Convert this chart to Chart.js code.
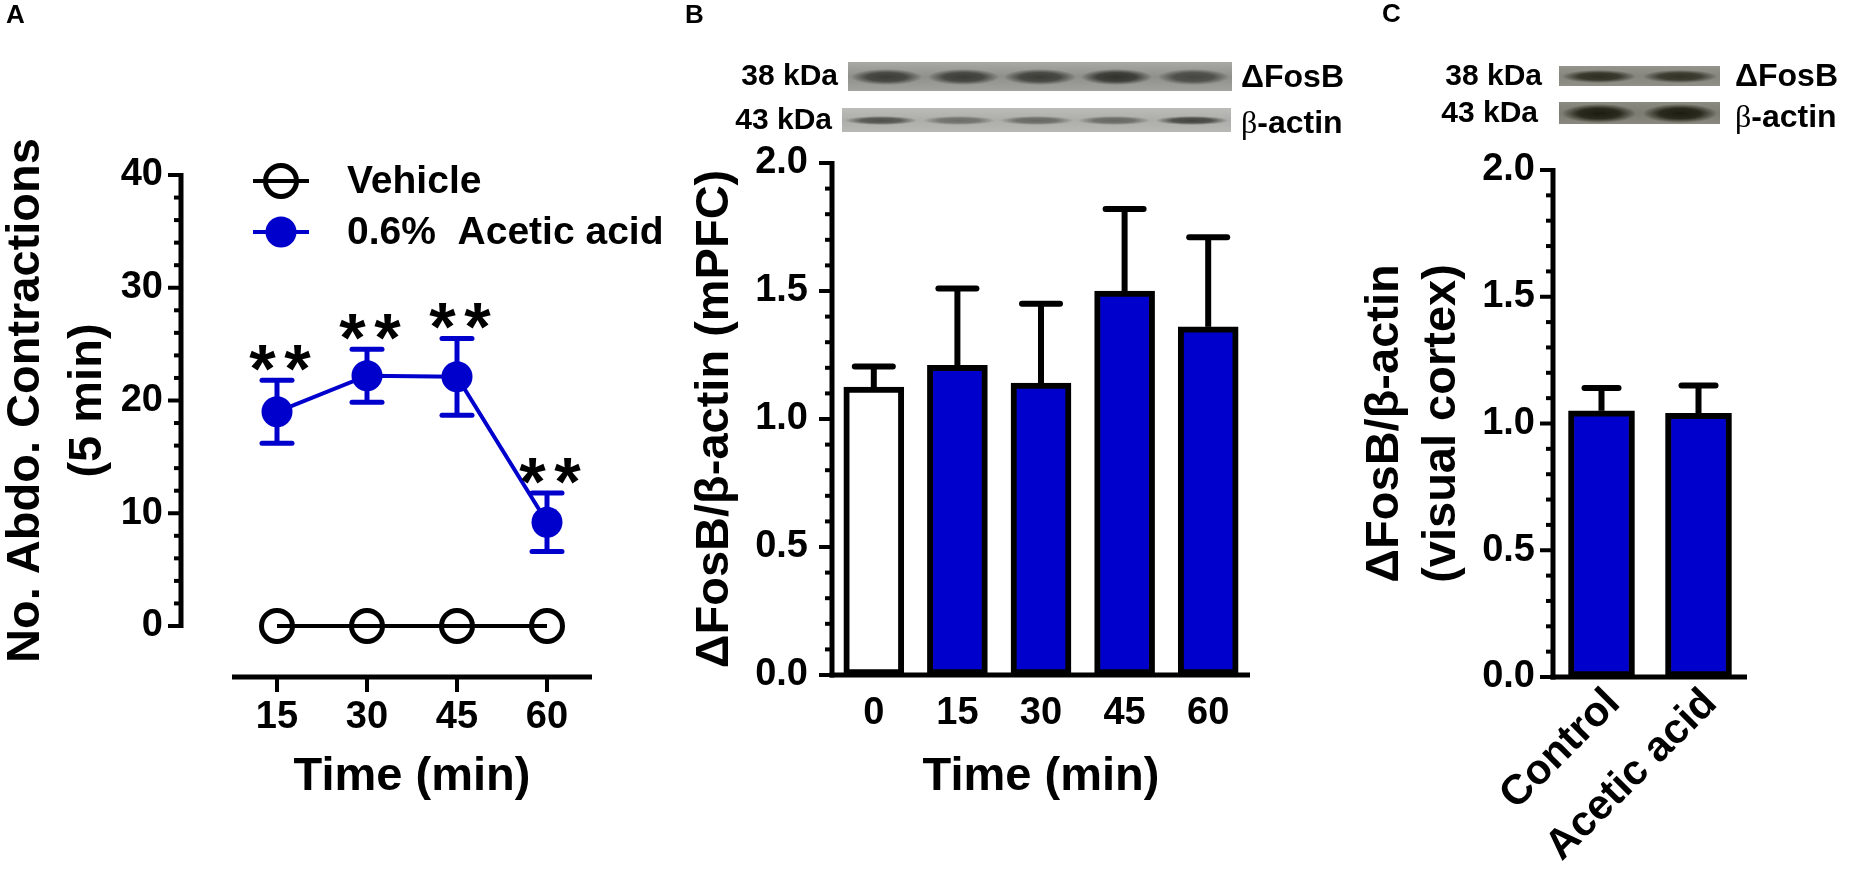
<!DOCTYPE html>
<html>
<head>
<meta charset="utf-8">
<script src="https://cdn.jsdelivr.net/npm/chart.js@4.4.1/dist/chart.umd.min.js"></script>
<style>
  body { margin: 0; background: #fff; width: 1850px; height: 878px; overflow: hidden; position: relative;
         font-family: 'Liberation Sans', Arial, sans-serif; font-weight: bold; color: #000; }
  canvas { position: absolute; left: 0; top: 0; }
  .lbl { position: absolute; white-space: nowrap; line-height: 1; transform: translateY(-50%); }
  .lbl.r { transform: translate(-100%, -50%); }
  .blot { position: absolute; overflow: hidden; }
  .band { position: absolute; }
  .greek { font-family: 'Liberation Serif', 'DejaVu Serif', serif; font-weight: normal; }
</style>
</head>
<body>
<canvas id="chartA" width="1850" height="878"></canvas>
<canvas id="chartB" width="1850" height="878"></canvas>
<canvas id="chartC" width="1850" height="878"></canvas>

<div class="lbl" style="left:6px;top:14px;font-size:26px">A</div>
<div class="lbl" style="left:685px;top:14px;font-size:26px">B</div>
<div class="lbl" style="left:1382px;top:13px;font-size:26px">C</div>

<div class="lbl r" style="left:838px;top:75px;font-size:30px">38 kDa</div>
<div class="lbl r" style="left:832px;top:119px;font-size:30px">43 kDa</div>
<div class="lbl" style="left:1241px;top:76px;font-size:32px">ΔFosB</div>
<div class="lbl" style="left:1241px;top:122px;font-size:32px"><span class="greek">β</span>-actin</div>

<div class="lbl r" style="left:1542px;top:75px;font-size:30px">38 kDa</div>
<div class="lbl r" style="left:1538px;top:112px;font-size:30px">43 kDa</div>
<div class="lbl" style="left:1735px;top:75px;font-size:32px">ΔFosB</div>
<div class="lbl" style="left:1735px;top:116px;font-size:32px"><span class="greek">β</span>-actin</div>

<script>
/*************** data ***************/
const timeMin = [15, 30, 45, 60];
const vehicleMean = [0, 0, 0, 0];
const aceticMean = [19.0, 22.2, 22.1, 9.2];
const aceticSem = [2.8, 2.35, 3.4, 2.6];
const aceticSig = ['**', '**', '**', '**'];
const contractionTicks = [0, 10, 20, 30, 40];

const mpfcGroups = ['0', '15', '30', '45', '60'];
const mpfcMean = [1.125, 1.21, 1.14, 1.50, 1.36];
const mpfcSem = [0.08, 0.30, 0.31, 0.32, 0.35];

const visualGroups = ['Control', 'Acetic acid'];
const visualMean = [1.05, 1.04];
const visualSem = [0.09, 0.11];

const ratioTicks = [0, 0.5, 1.0, 1.5, 2.0];

const BLUE = '#0000cc';
const FONT = "'Liberation Sans', Arial, sans-serif";

Chart.defaults.font.family = FONT;
Chart.defaults.font.weight = 'bold';
Chart.defaults.color = '#000';

/*************** western blot strips (picture only) ***************/
function addBlot(left, top, w, h, bg, band, bandH, lanes) {
  const d = document.createElement('div');
  d.className = 'blot';
  Object.assign(d.style, { left: left + 'px', top: top + 'px', width: w + 'px', height: h + 'px', background: bg });
  const lw = w / lanes.length;
  lanes.forEach((a, i) => {
    const b = document.createElement('div');
    b.className = 'band';
    Object.assign(b.style, {
      left: (i * lw + lw * 0.05) + 'px', width: (lw * 0.9) + 'px',
      top: (h / 2 - bandH / 2) + 'px', height: bandH + 'px',
      background: `radial-gradient(ellipse 52% 50% at 50% 50%, rgba(${band},${a}) 0%, rgba(${band},${a * 0.85}) 55%, rgba(${band},0) 100%)`
    });
    d.appendChild(b);
  });
  document.body.appendChild(d);
}
addBlot(848, 62, 384, 29, 'linear-gradient(#a9a9a6, #8f8f8c 50%, #a2a29f)', '45,45,40', 16, [0.85, 0.85, 0.85, 0.95, 0.75]);
addBlot(842, 108, 389, 24, 'linear-gradient(#bcbcb8, #adadaa 50%, #b8b8b4)', '55,55,50', 9, [0.8, 0.55, 0.6, 0.6, 0.9]);
addBlot(1559, 66, 161, 20, 'linear-gradient(#94948c, #86867e 50%, #909088)', '40,40,28', 13, [0.95, 0.9]);
addBlot(1559, 102, 161, 22, 'linear-gradient(#8a8a80, #7c7c72 50%, #88887e)', '28,28,16', 19, [1, 1]);

/*************** plugins ***************/
// GraphPad style axes: thick lines, long major and short minor ticks
const axesFrame = {
  id: 'axesFrame',
  afterDraw(chart, args, o) {
    const { ctx, chartArea: ca, scales: { x, y } } = chart;
    const ax = ca.left - (o.yGap || 0);
    const ay = ca.bottom + (o.xGap || 0);
    ctx.save();
    ctx.strokeStyle = '#000';
    ctx.lineCap = 'butt';
    ctx.lineWidth = 5;
    const yBot = o.xGap ? y.getPixelForValue(y.min) + 2 : ay + 2.5;
    ctx.beginPath(); ctx.moveTo(ax, yBot); ctx.lineTo(ax, y.getPixelForValue(y.max) - 2); ctx.stroke();
    const xStart = o.yGap ? x.getPixelForValue(x.min) : ax - 2.5;
    ctx.beginPath(); ctx.moveTo(xStart, ay); ctx.lineTo(ca.right, ay); ctx.stroke();
    ctx.lineWidth = 4;
    const majors = y.ticks.map(t => t.value);
    for (let v = y.min; v <= y.max + 1e-9; v += o.minorStep) {
      const p = y.getPixelForValue(v);
      const len = majors.some(m => Math.abs(m - v) < 1e-6) ? 13 : 7;
      ctx.beginPath(); ctx.moveTo(ax - len, p); ctx.lineTo(ax, p); ctx.stroke();
    }
    if (o.xTickLen) {
      x.ticks.forEach(t => {
        const p = x.getPixelForValue(t.value);
        ctx.beginPath(); ctx.moveTo(p, ay); ctx.lineTo(p, ay + o.xTickLen); ctx.stroke();
      });
    }
    ctx.restore();
  }
};

const errorBars = {
  id: 'errorBars',
  afterDatasetsDraw(chart, args, o) {
    if (!o.sem) return;
    const { ctx } = chart;
    const y = chart.scales.y;
    const ds = chart.data.datasets[o.datasetIndex];
    const meta = chart.getDatasetMeta(o.datasetIndex);
    ctx.save();
    ctx.strokeStyle = o.color;
    ctx.lineWidth = o.width;
    meta.data.forEach((el, i) => {
      const v = typeof ds.data[i] === 'object' ? ds.data[i].y : ds.data[i];
      const hi = y.getPixelForValue(v + o.sem[i]);
      const lo = y.getPixelForValue(o.both ? v - o.sem[i] : v);
      ctx.lineCap = 'butt';
      ctx.beginPath(); ctx.moveTo(el.x, lo); ctx.lineTo(el.x, hi); ctx.stroke();
      ctx.lineCap = 'round';
      (o.both ? [hi, lo] : [hi]).forEach(p => {
        ctx.beginPath(); ctx.moveTo(el.x - o.cap, p); ctx.lineTo(el.x + o.cap, p); ctx.stroke();
      });
    });
    ctx.restore();
  }
};

const sigStars = {
  id: 'sigStars',
  afterDatasetsDraw(chart, args, o) {
    if (!o.labels) return;
    const { ctx } = chart;
    const y = chart.scales.y;
    const ds = chart.data.datasets[o.datasetIndex];
    const meta = chart.getDatasetMeta(o.datasetIndex);
    ctx.save();
    ctx.fillStyle = '#000';
    ctx.font = `bold ${o.size}px ${FONT}`;
    ctx.textAlign = 'center';
    const m = ctx.measureText('*');
    const shift = (m.actualBoundingBoxAscent - m.actualBoundingBoxDescent) / 2;
    meta.data.forEach((el, i) => {
      const lab = o.labels[i];
      if (!lab) return;
      const cy = y.getPixelForValue(ds.data[i].y + o.sem[i]) - o.gap;
      for (let k = 0; k < lab.length; k++) {
        ctx.fillText(lab[k], el.x + o.dx + (k - (lab.length - 1) / 2) * o.spacing, cy + shift);
      }
    });
    ctx.restore();
  }
};

// legend with a line through the marker, as in the figure
const lineLegend = {
  id: 'lineLegend',
  afterDraw(chart, args, o) {
    if (!o.show) return;
    const { ctx, chartArea: ca } = chart;
    ctx.save();
    chart.data.datasets.forEach((ds, i) => {
      const yy = ca.top + o.top + i * o.step;
      const x0 = ca.left + o.left;
      ctx.strokeStyle = ds.borderColor;
      ctx.lineWidth = ds.borderWidth;
      ctx.beginPath(); ctx.moveTo(x0, yy); ctx.lineTo(x0 + o.lineLen, yy); ctx.stroke();
      ctx.beginPath(); ctx.arc(x0 + o.lineLen / 2, yy, ds.pointRadius, 0, Math.PI * 2);
      ctx.fillStyle = ds.pointBackgroundColor; ctx.fill();
      if (ds.pointBorderWidth) { ctx.lineWidth = ds.pointBorderWidth; ctx.strokeStyle = ds.pointBorderColor; ctx.stroke(); }
      ctx.fillStyle = '#000';
      ctx.font = `bold ${o.size}px ${FONT}`;
      ctx.textBaseline = 'middle';
      ctx.fillText(ds.label, x0 + o.textGap, yy + 1);
    });
    ctx.restore();
  }
};

const plainGrid = { display: false, drawTicks: false };
const noBorder = { display: false };

/*************** A: abdominal contractions ***************/
new Chart(document.getElementById('chartA'), {
  type: 'line',
  data: {
    datasets: [
      {
        label: 'Vehicle',
        data: timeMin.map((t, i) => ({ x: t, y: vehicleMean[i] })),
        borderColor: '#000', borderWidth: 4,
        pointRadius: 15.5, pointBorderWidth: 5,
        pointBorderColor: '#000', pointBackgroundColor: 'rgba(0,0,0,0)',
        clip: false
      },
      {
        label: '0.6%  Acetic acid',
        data: timeMin.map((t, i) => ({ x: t, y: aceticMean[i] })),
        borderColor: BLUE, borderWidth: 4,
        pointRadius: 15.5, pointBorderWidth: 0,
        pointBorderColor: BLUE, pointBackgroundColor: BLUE,
        clip: false
      }
    ]
  },
  options: {
    responsive: false, animation: false, events: [],
    layout: { autoPadding: false, padding: { left: 0, top: 175, right: 1258, bottom: 0 } },
    scales: {
      x: {
        type: 'linear', min: 7.5, max: 67.5,
        afterFit: s => { s.height = 252; },
        afterBuildTicks: s => { s.ticks = timeMin.map(v => ({ value: v })); },
        grid: plainGrid, border: noBorder,
        ticks: { font: { size: 38 }, padding: 69 },
        title: { display: true, text: 'Time (min)', font: { size: 47 }, padding: { top: 0, bottom: 73 } }
      },
      y: {
        min: 0, max: 40,
        afterFit: s => { s.width = 232; },
        afterBuildTicks: s => { s.ticks = contractionTicks.map(v => ({ value: v })); },
        grid: plainGrid, border: noBorder,
        ticks: { font: { size: 38 }, padding: 69 },
        title: {
          display: true, text: ['No. Abdo. Contractions', '(5 min)'],
          font: { size: 47, lineHeight: '62px' }, padding: { top: -5, bottom: 0 }
        }
      }
    },
    plugins: {
      legend: { display: false }, tooltip: { enabled: false },
      axesFrame: { yGap: 51, xGap: 51, minorStep: 2, xTickLen: 15 },
      errorBars: { sem: aceticSem, datasetIndex: 1, both: true, color: BLUE, width: 5, cap: 15 },
      sigStars: { labels: aceticSig, sem: aceticSem, datasetIndex: 1, size: 68, spacing: 35, gap: 22, dx: 3 },
      lineLegend: { show: true, top: 6, step: 51, left: 21, lineLen: 56, textGap: 94, size: 39 }
    }
  },
  plugins: [axesFrame, errorBars, sigStars, lineLegend]
});

/*************** B: mPFC ***************/
new Chart(document.getElementById('chartB'), {
  type: 'bar',
  data: {
    labels: mpfcGroups,
    datasets: [{
      data: mpfcMean,
      backgroundColor: mpfcGroups.map((g, i) => i === 0 ? '#fff' : BLUE),
      borderColor: '#000', borderWidth: 6, borderSkipped: false,
      barThickness: 60
    }]
  },
  options: {
    responsive: false, animation: false, events: [],
    layout: { autoPadding: false, padding: { left: 687, top: 163, right: 600, bottom: 0 } },
    scales: {
      x: {
        afterFit: s => { s.height = 203; },
        grid: plainGrid, border: noBorder,
        ticks: { font: { size: 38 }, padding: 16 },
        title: { display: true, text: 'Time (min)', font: { size: 47 }, padding: { top: 0, bottom: 73 } }
      },
      y: {
        min: 0, max: 2,
        afterFit: s => { s.width = 145; },
        afterBuildTicks: s => { s.ticks = ratioTicks.map(v => ({ value: v })); },
        grid: plainGrid, border: noBorder,
        ticks: { font: { size: 38 }, padding: 24, callback: v => v.toFixed(1) },
        title: { display: true, text: 'ΔFosB/β-actin (mPFC)', font: { size: 47 }, padding: { top: 0, bottom: 0 } }
      }
    },
    plugins: {
      legend: { display: false }, tooltip: { enabled: false },
      axesFrame: { minorStep: 0.1 },
      errorBars: { sem: mpfcSem, datasetIndex: 0, both: false, color: '#000', width: 6, cap: 19 }
    }
  },
  plugins: [axesFrame, errorBars]
});

/*************** C: visual cortex ***************/
new Chart(document.getElementById('chartC'), {
  type: 'bar',
  data: {
    labels: visualGroups,
    datasets: [{
      data: visualMean,
      backgroundColor: BLUE,
      borderColor: '#000', borderWidth: 6, borderSkipped: false,
      barThickness: 66
    }]
  },
  options: {
    responsive: false, animation: false, events: [],
    layout: { autoPadding: false, padding: { left: 1357, top: 170, right: 103, bottom: 0 } },
    scales: {
      x: {
        afterFit: s => { s.height = 201; },
        grid: plainGrid, border: noBorder,
        ticks: { font: { size: 42 }, padding: 2, minRotation: 45, maxRotation: 45, autoSkip: false, labelOffset: 12 }
      },
      y: {
        min: 0, max: 2,
        afterFit: s => { s.width = 196; },
        afterBuildTicks: s => { s.ticks = ratioTicks.map(v => ({ value: v })); },
        grid: plainGrid, border: noBorder,
        ticks: { font: { size: 38 }, padding: 18, callback: v => v.toFixed(1) },
        title: { display: true, text: ['ΔFosB/β-actin', '(visual cortex)'], font: { size: 47 }, padding: { top: 0, bottom: 0 } }
      }
    },
    plugins: {
      legend: { display: false }, tooltip: { enabled: false },
      axesFrame: { minorStep: 0.1 },
      errorBars: { sem: visualSem, datasetIndex: 0, both: false, color: '#000', width: 6, cap: 17 }
    }
  },
  plugins: [axesFrame, errorBars]
});
</script>
</body>
</html>
